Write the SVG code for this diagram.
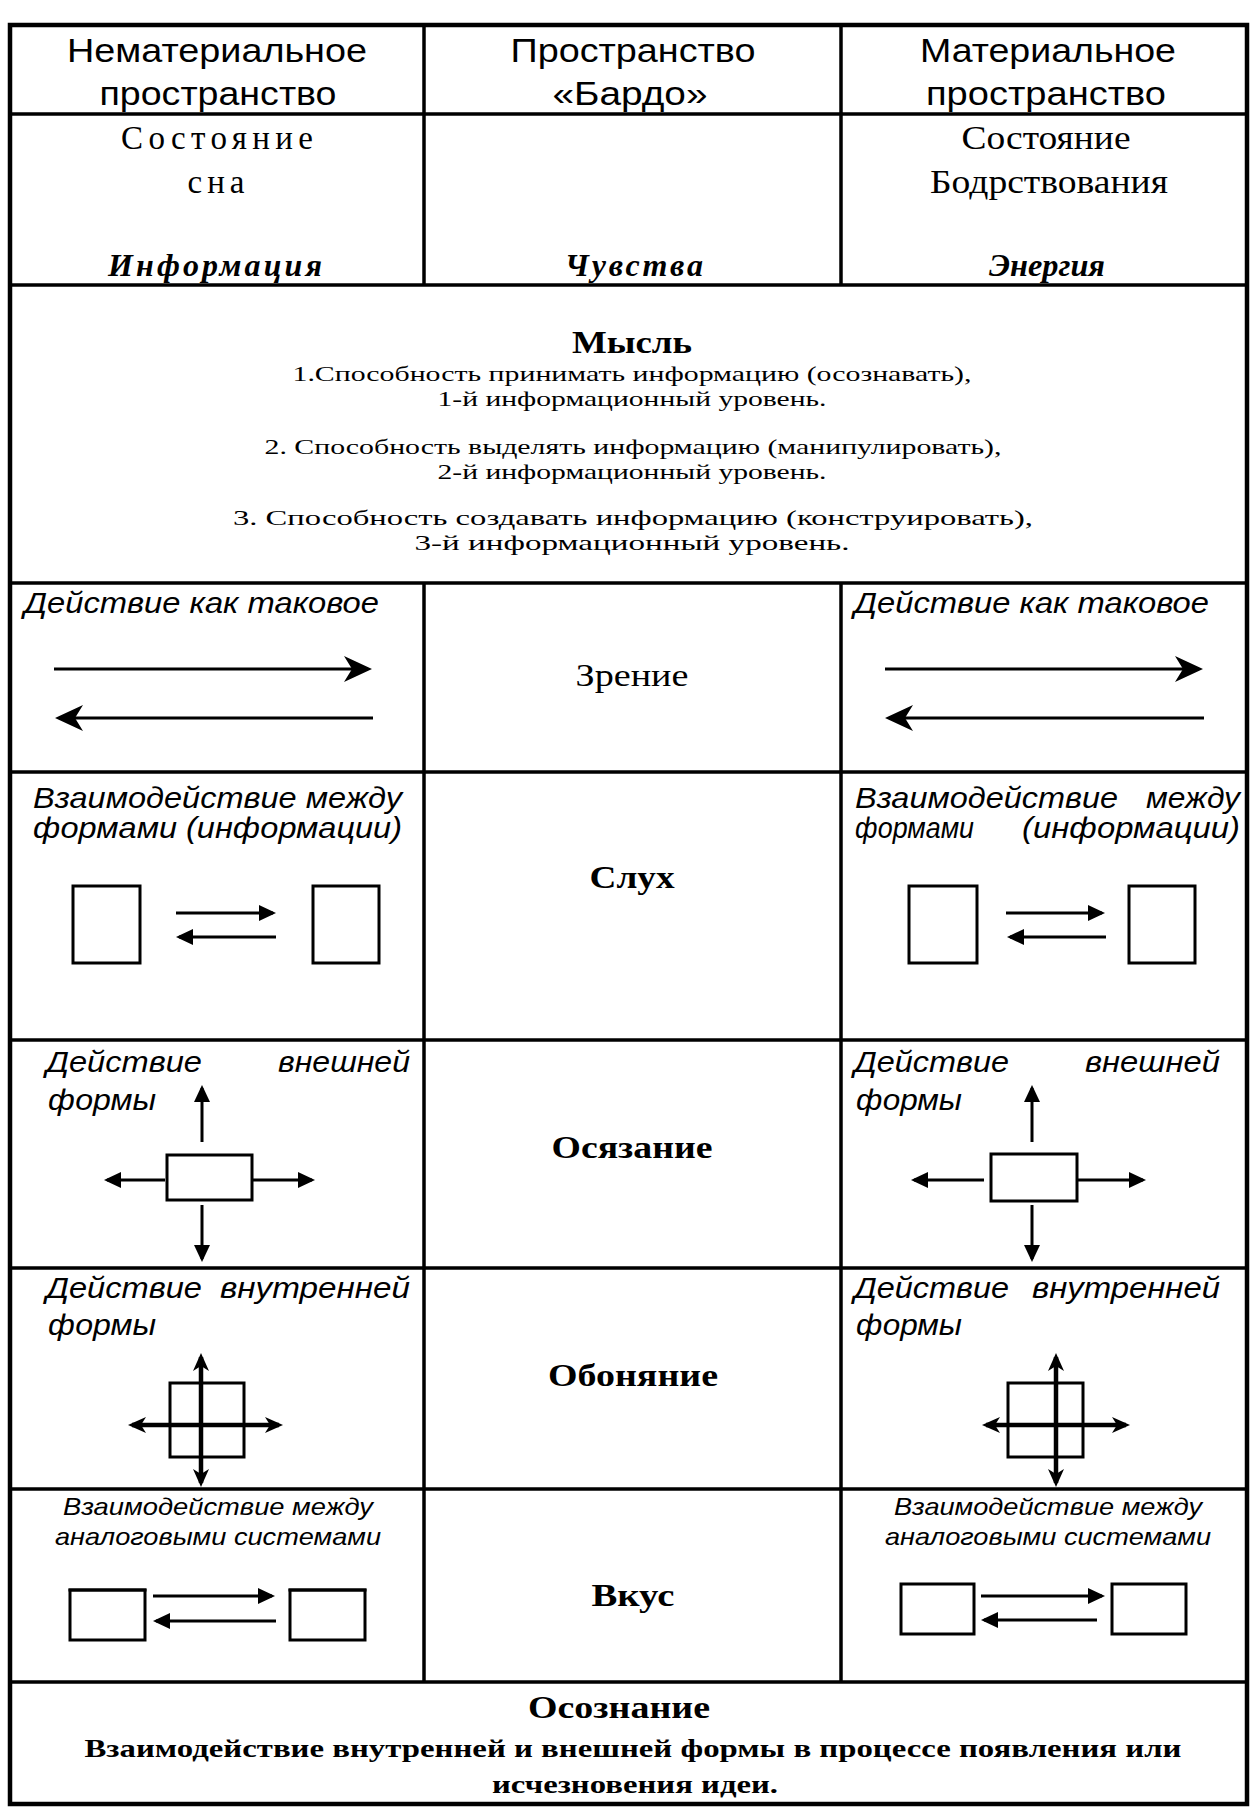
<svg xmlns="http://www.w3.org/2000/svg" width="1259" height="1817" viewBox="0 0 1259 1817">
<style>
text{fill:#000}
.h{font-family:"Liberation Sans",Arial,sans-serif;font-size:33px;text-anchor:middle}
.sr{font-family:"Liberation Serif","Times New Roman",serif;font-size:33px;text-anchor:middle}
.sb{font-family:"Liberation Serif","Times New Roman",serif;font-size:31px;font-weight:bold;text-anchor:middle}
.sbi{font-family:"Liberation Serif","Times New Roman",serif;font-size:32px;font-weight:bold;font-style:italic;text-anchor:middle}
.num{font-family:"Liberation Serif","Times New Roman",serif;font-size:22px;text-anchor:middle}
.it{font-family:"Liberation Sans",Arial,sans-serif;font-size:30px;font-style:italic}
.its{font-family:"Liberation Sans",Arial,sans-serif;font-size:24px;font-style:italic;text-anchor:middle}
.end{text-anchor:end}
.grid{stroke:#000;stroke-width:3.5;fill:none}
.outer{stroke:#000;stroke-width:4.5;fill:none}
.box{stroke:#000;stroke-width:3;fill:#fff}
.ln{stroke:#000;stroke-width:3;fill:none}
.lnT{stroke:#000;stroke-width:4.5;fill:none}
</style>
<defs>
<marker id="mStealth" viewBox="-30 -15 36 30" markerWidth="36" markerHeight="30" refX="0" refY="0" orient="auto" markerUnits="userSpaceOnUse"><path d="M4,0 L-24,-13 L-16,0 L-24,13 Z" fill="#000"/></marker>
<marker id="mTri" viewBox="-20 -10 24 20" markerWidth="24" markerHeight="20" refX="0" refY="0" orient="auto" markerUnits="userSpaceOnUse"><path d="M3,0 L-14,-8 L-14,8 Z" fill="#000"/></marker>
<marker id="mStealthS" viewBox="-20 -12 24 24" markerWidth="24" markerHeight="24" refX="0" refY="0" orient="auto-start-reverse" markerUnits="userSpaceOnUse"><path d="M4,0 L-14,-8 L-9,0 L-14,8 Z" fill="#000"/></marker>
</defs>
<rect width="1259" height="1817" fill="#fff"/>

<g id="table">
<rect class="outer" x="10" y="25" width="1237" height="1779"/>
<line class="grid" x1="10" y1="114" x2="1247" y2="114"/>
<line class="grid" x1="10" y1="285" x2="1247" y2="285"/>
<line class="grid" x1="10" y1="583" x2="1247" y2="583"/>
<line class="grid" x1="10" y1="772" x2="1247" y2="772"/>
<line class="grid" x1="10" y1="1040" x2="1247" y2="1040"/>
<line class="grid" x1="10" y1="1268" x2="1247" y2="1268"/>
<line class="grid" x1="10" y1="1489" x2="1247" y2="1489"/>
<line class="grid" x1="10" y1="1682" x2="1247" y2="1682"/>
<line class="grid" x1="424" y1="25" x2="424" y2="285"/>
<line class="grid" x1="841" y1="25" x2="841" y2="285"/>
<line class="grid" x1="424" y1="583" x2="424" y2="1682"/>
<line class="grid" x1="841" y1="583" x2="841" y2="1682"/>
</g>

<g id="header">
<text class="h" x="217" y="62" textLength="300" lengthAdjust="spacingAndGlyphs">Нематериальное</text>
<text class="h" x="218" y="105" textLength="237" lengthAdjust="spacingAndGlyphs">пространство</text>
<text class="h" x="633" y="62" textLength="245" lengthAdjust="spacingAndGlyphs">Пространство</text>
<text class="h" x="630" y="105" textLength="155" lengthAdjust="spacingAndGlyphs">«Бардо»</text>
<text class="h" x="1048" y="62" textLength="256" lengthAdjust="spacingAndGlyphs">Материальное</text>
<text class="h" x="1046" y="105" textLength="240" lengthAdjust="spacingAndGlyphs">пространство</text>
</g>

<g id="states">
<text class="sr" x="217" y="149" textLength="192">Состояние</text>
<text class="sr" x="216" y="193" textLength="57">сна</text>
<text class="sbi" x="215" y="276" textLength="214">Информация</text>
<text class="sbi" x="634" y="276" textLength="138">Чувства</text>
<text class="sr" x="1046" y="149" textLength="169" lengthAdjust="spacingAndGlyphs">Состояние</text>
<text class="sr" x="1049" y="193" textLength="238" lengthAdjust="spacingAndGlyphs">Бодрствования</text>
<text class="sbi" x="1047" y="276" textLength="116" lengthAdjust="spacingAndGlyphs">Энергия</text>
</g>

<g id="thought">
<text class="sb" x="632" y="353" style="font-size:32px" textLength="120" lengthAdjust="spacingAndGlyphs">Мысль</text>
<text class="num" x="632" y="381" textLength="679" lengthAdjust="spacingAndGlyphs">1.Способность принимать информацию (осознавать),</text>
<text class="num" x="632" y="406" textLength="389" lengthAdjust="spacingAndGlyphs">1-й информационный уровень.</text>
<text class="num" x="633" y="454" textLength="737" lengthAdjust="spacingAndGlyphs">2. Способность выделять информацию (манипулировать),</text>
<text class="num" x="632" y="479" textLength="389" lengthAdjust="spacingAndGlyphs">2-й информационный уровень.</text>
<text class="num" x="633" y="525" textLength="800" lengthAdjust="spacingAndGlyphs">3. Способность создавать информацию (конструировать),</text>
<text class="num" x="632" y="550" textLength="435" lengthAdjust="spacingAndGlyphs">3-й  информационный уровень.</text>
</g>

<g id="sight">
<text class="it" x="24" y="613" textLength="355" lengthAdjust="spacingAndGlyphs">Действие как таковое</text>
<text class="sr" x="632" y="686" style="font-size:32px" textLength="113" lengthAdjust="spacingAndGlyphs">Зрение</text>
<text class="it" x="854" y="613" textLength="355" lengthAdjust="spacingAndGlyphs">Действие как таковое</text>
</g>

<g id="hearing">
<text class="it" x="33" y="808" textLength="369" lengthAdjust="spacingAndGlyphs">Взаимодействие между</text>
<text class="it" x="33" y="838" textLength="369" lengthAdjust="spacingAndGlyphs">формами (информации)</text>
<text class="sb" x="632" y="888" textLength="85" lengthAdjust="spacingAndGlyphs">Слух</text>
<text class="it" x="855" y="808" textLength="263" lengthAdjust="spacingAndGlyphs">Взаимодействие</text>
<text class="it end" x="1240" y="808" textLength="94" lengthAdjust="spacingAndGlyphs">между</text>
<text class="it" x="855" y="838" textLength="119" lengthAdjust="spacingAndGlyphs">формами</text>
<text class="it end" x="1240" y="838" textLength="218" lengthAdjust="spacingAndGlyphs">(информации)</text>
<rect class="box" x="73" y="886" width="67" height="77"/>
<rect class="box" x="313" y="886" width="66" height="77"/>
<rect class="box" x="909" y="886" width="68" height="77"/>
<rect class="box" x="1129" y="886" width="66" height="77"/>
</g>

<g id="touch">
<text class="it" x="46" y="1072" textLength="156" lengthAdjust="spacingAndGlyphs">Действие</text>
<text class="it end" x="410" y="1072" textLength="132" lengthAdjust="spacingAndGlyphs">внешней</text>
<text class="it" x="48" y="1110" textLength="108" lengthAdjust="spacingAndGlyphs">формы</text>
<text class="sb" x="632" y="1158" textLength="161" lengthAdjust="spacingAndGlyphs">Осязание</text>
<text class="it" x="854" y="1072" textLength="155" lengthAdjust="spacingAndGlyphs">Действие</text>
<text class="it end" x="1220" y="1072" textLength="135" lengthAdjust="spacingAndGlyphs">внешней</text>
<text class="it" x="856" y="1110" textLength="106" lengthAdjust="spacingAndGlyphs">формы</text>
<rect class="box" x="167" y="1155" width="85" height="45"/>
<rect class="box" x="991" y="1154" width="86" height="47"/>
</g>

<g id="smell">
<text class="it" x="46" y="1298" textLength="156" lengthAdjust="spacingAndGlyphs">Действие</text>
<text class="it end" x="410" y="1298" textLength="190" lengthAdjust="spacingAndGlyphs">внутренней</text>
<text class="it" x="48" y="1335" textLength="108" lengthAdjust="spacingAndGlyphs">формы</text>
<text class="sb" x="633" y="1386" textLength="170" lengthAdjust="spacingAndGlyphs">Обоняние</text>
<text class="it" x="854" y="1298" textLength="155" lengthAdjust="spacingAndGlyphs">Действие</text>
<text class="it end" x="1220" y="1298" textLength="188" lengthAdjust="spacingAndGlyphs">внутренней</text>
<text class="it" x="856" y="1335" textLength="106" lengthAdjust="spacingAndGlyphs">формы</text>
<rect class="box" x="170" y="1383" width="74" height="74" fill="none"/>
<rect class="box" x="1008" y="1383" width="75" height="74" fill="none"/>
</g>

<g id="taste">
<text class="its" x="218" y="1515" textLength="310" lengthAdjust="spacingAndGlyphs">Взаимодействие между</text>
<text class="its" x="218" y="1545" textLength="326" lengthAdjust="spacingAndGlyphs">аналоговыми системами</text>
<text class="sb" x="633" y="1606" textLength="83" lengthAdjust="spacingAndGlyphs">Вкус</text>
<text class="its" x="1048" y="1515" textLength="308" lengthAdjust="spacingAndGlyphs">Взаимодействие между</text>
<text class="its" x="1048" y="1545" textLength="326" lengthAdjust="spacingAndGlyphs">аналоговыми системами</text>
<rect class="box" x="70" y="1590" width="75" height="50"/>
<line class="ln" x1="68.5" y1="1590" x2="146.5" y2="1590" stroke-width="4.5"/>
<rect class="box" x="290" y="1590" width="75" height="50"/>
<line class="ln" x1="288.5" y1="1590" x2="366.5" y2="1590" stroke-width="4.5"/>
<rect class="box" x="901" y="1584" width="73" height="50"/>
<rect class="box" x="1112" y="1584" width="74" height="50"/>
</g>

<g id="awareness">
<text class="sb" x="619" y="1718" style="font-size:32px" textLength="182" lengthAdjust="spacingAndGlyphs">Осознание</text>
<text class="sb" x="633" y="1757" style="font-size:26px" textLength="1097" lengthAdjust="spacingAndGlyphs">Взаимодействие  внутренней и внешней формы в процессе появления или</text>
<text class="sb" x="635" y="1793" style="font-size:26px" textLength="286" lengthAdjust="spacingAndGlyphs">исчезновения идеи.</text>
</g>

<g id="connectors">
<line class="ln" x1="54" y1="669" x2="368" y2="669" marker-end="url(#mStealth)"/>
<line class="ln" x1="373" y1="718" x2="59" y2="718" marker-end="url(#mStealth)"/>
<line class="ln" x1="885" y1="669" x2="1199" y2="669" marker-end="url(#mStealth)"/>
<line class="ln" x1="1204" y1="718" x2="889" y2="718" marker-end="url(#mStealth)"/>

<line class="ln" x1="176" y1="913" x2="273" y2="913" marker-end="url(#mTri)"/>
<line class="ln" x1="276" y1="937" x2="179" y2="937" marker-end="url(#mTri)"/>
<line class="ln" x1="1006" y1="913" x2="1102" y2="913" marker-end="url(#mTri)"/>
<line class="ln" x1="1106" y1="937" x2="1010" y2="937" marker-end="url(#mTri)"/>

<line class="ln" x1="202" y1="1142" x2="202" y2="1088" marker-end="url(#mTri)"/>
<line class="ln" x1="202" y1="1205" x2="202" y2="1259" marker-end="url(#mTri)"/>
<line class="ln" x1="165" y1="1180" x2="107" y2="1180" marker-end="url(#mTri)"/>
<line class="ln" x1="252" y1="1180" x2="312" y2="1180" marker-end="url(#mTri)"/>
<line class="ln" x1="1032" y1="1142" x2="1032" y2="1088" marker-end="url(#mTri)"/>
<line class="ln" x1="1032" y1="1205" x2="1032" y2="1259" marker-end="url(#mTri)"/>
<line class="ln" x1="984" y1="1180" x2="914" y2="1180" marker-end="url(#mTri)"/>
<line class="ln" x1="1077" y1="1180" x2="1143" y2="1180" marker-end="url(#mTri)"/>

<line class="lnT" x1="201" y1="1357" x2="201" y2="1483" marker-start="url(#mStealthS)" marker-end="url(#mStealthS)"/>
<line class="lnT" x1="132" y1="1425" x2="279" y2="1425" marker-start="url(#mStealthS)" marker-end="url(#mStealthS)"/>
<line class="lnT" x1="1056" y1="1357" x2="1056" y2="1483" marker-start="url(#mStealthS)" marker-end="url(#mStealthS)"/>
<line class="lnT" x1="986" y1="1425" x2="1126" y2="1425" marker-start="url(#mStealthS)" marker-end="url(#mStealthS)"/>

<line class="ln" x1="153" y1="1596" x2="272" y2="1596" marker-end="url(#mTri)"/>
<line class="ln" x1="276" y1="1621" x2="156" y2="1621" marker-end="url(#mTri)"/>
<line class="ln" x1="981" y1="1596" x2="1102" y2="1596" marker-end="url(#mTri)"/>
<line class="ln" x1="1097" y1="1620" x2="984" y2="1620" marker-end="url(#mTri)"/>
</g>
</svg>
